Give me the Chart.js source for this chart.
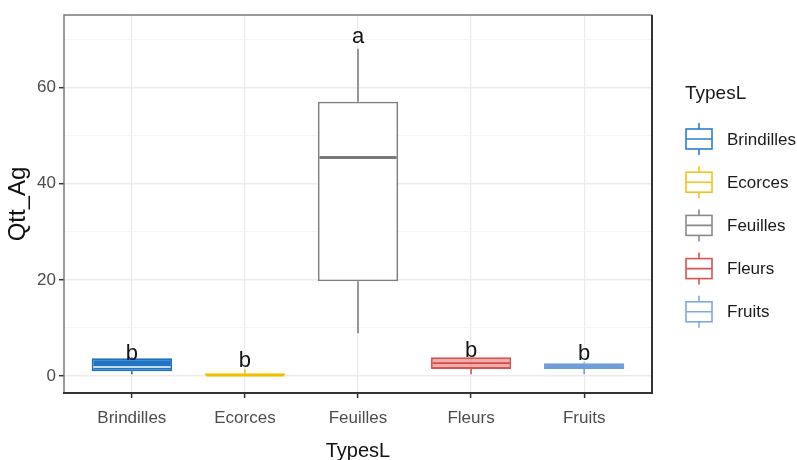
<!DOCTYPE html>
<html><head><meta charset="utf-8">
<script src="https://cdn.jsdelivr.net/npm/chart.js@4.4.0/dist/chart.umd.min.js"></script>
<style>html,body{margin:0;padding:0;background:#fff;} #wrap{width:797px;height:460px;}</style>
</head><body><div id="wrap"><canvas id="c" width="797" height="460"></canvas></div>
<script>
// ---- data ----
const categories = ['Brindilles', 'Ecorces', 'Feuilles', 'Fleurs', 'Fruits'];
const whiskerLow = [0.4, 0.0, 8.9, 0.4, 0.4];
const q1Values = [1.0, 0.0, 19.7, 1.5, 1.5];
const medianValues = [1.9, 0.1, 45.4, 2.7, 2.1];
const q3Values = [3.7, 0.6, 57.0, 3.9, 2.7];
const whiskerHigh = [3.9, 1.4, 68.0, 4.1, 2.9];
const groupLetters = ['b', 'b', 'a', 'b', 'b'];
const letterValues = [3.3, 1.9, 69.1, 4.0, 3.3];
const yMajorTicks = [0, 20, 40, 60];
const yMinorTicks = [10, 30, 50, 70];
const legendTitle = 'TypesL';
const xTitle = 'TypesL';
const yTitle = 'Qtt_Ag';

// ---- styles ----
const lineColors = ['#1f6fc0', '#f0c000', '#808080', '#d9534f', '#6f9fdb'];
const fillColors = ['#1f74c8', '#f0c000', '#ffffff', 'rgba(222,110,106,0.55)', '#6f9fdb'];
const medianColors = ['#ffffff', '#f0c000', '#7a7a7a', '#d24b4b', '#6f9fdb'];
const medianWidths = [1.5, 1.5, 3, 1.8, 1.5];
const legendColors = ['#2b7fcf', '#f2c318', '#8a8a8a', '#d9534f', '#7ea9e0'];
const FONT = "'Liberation Sans', Arial, sans-serif";

const boxPlugin = {
  id: 'boxExtras',
  beforeDatasetsDraw(chart) {
    const ctx = chart.ctx, xs = chart.scales.x, ys = chart.scales.y;
    ctx.save();
    ctx.lineWidth = 1.6;
    categories.forEach((c, i) => {
      const x = xs.getPixelForValue(i);
      ctx.strokeStyle = lineColors[i];
      ctx.beginPath();
      ctx.moveTo(x, ys.getPixelForValue(whiskerLow[i]));
      ctx.lineTo(x, ys.getPixelForValue(q1Values[i]));
      ctx.moveTo(x, ys.getPixelForValue(q3Values[i]));
      ctx.lineTo(x, ys.getPixelForValue(whiskerHigh[i]));
      ctx.stroke();
    });
    ctx.restore();
  },
  afterDatasetsDraw(chart) {
    const ctx = chart.ctx, xs = chart.scales.x, ys = chart.scales.y;
    const meta = chart.getDatasetMeta(0);
    ctx.save();
    categories.forEach((c, i) => {
      const x = xs.getPixelForValue(i);
      const w = meta.data[i].width;
      const y = ys.getPixelForValue(medianValues[i]);
      ctx.strokeStyle = medianColors[i];
      ctx.lineWidth = medianWidths[i];
      ctx.beginPath();
      ctx.moveTo(x - w / 2 + 1.5, y);
      ctx.lineTo(x + w / 2 - 1.5, y);
      ctx.stroke();
    });
    ctx.fillStyle = '#141414';
    ctx.font = '22px ' + FONT;
    ctx.textAlign = 'center';
    ctx.textBaseline = 'alphabetic';
    categories.forEach((c, i) => {
      ctx.fillText(groupLetters[i], xs.getPixelForValue(i), ys.getPixelForValue(letterValues[i]));
    });
    ctx.restore();
  },
  afterDraw(chart) {
    const ctx = chart.ctx, a = chart.chartArea;
    ctx.save();
    // panel border
    ctx.lineWidth = 1.5;
    ctx.strokeStyle = '#7a7a7a';
    ctx.beginPath();
    ctx.moveTo(a.left, a.bottom); ctx.lineTo(a.left, a.top); ctx.lineTo(a.right, a.top);
    ctx.stroke();
    ctx.lineWidth = 2;
    ctx.strokeStyle = '#333333';
    ctx.beginPath();
    ctx.moveTo(a.right, a.top); ctx.lineTo(a.right, a.bottom); ctx.lineTo(a.left - 1, a.bottom);
    ctx.stroke();
    // legend
    const lx = a.right + 33;
    ctx.fillStyle = '#1a1a1a';
    ctx.font = '19px ' + FONT;
    ctx.textAlign = 'left';
    ctx.textBaseline = 'middle';
    ctx.fillText(legendTitle, lx, 94);
    ctx.font = '17px ' + FONT;
    categories.forEach((c, i) => {
      const cy = 139 + i * 43.2;
      ctx.strokeStyle = legendColors[i];
      ctx.lineWidth = 1.6;
      ctx.beginPath();
      ctx.moveTo(lx + 14, cy - 16); ctx.lineTo(lx + 14, cy - 10);
      ctx.moveTo(lx + 14, cy + 10); ctx.lineTo(lx + 14, cy + 16);
      ctx.moveTo(lx + 1, cy); ctx.lineTo(lx + 27, cy);
      ctx.stroke();
      ctx.strokeRect(lx + 1, cy - 10, 26, 20);
      ctx.fillStyle = '#1a1a1a';
      ctx.fillText(c, lx + 42, cy + 1);
    });
    ctx.restore();
  }
};

new Chart(document.getElementById('c'), {
  type: 'bar',
  data: {
    datasets: [{
      data: categories.map((c, i) => ({ x: i, y: [q1Values[i], q3Values[i]] })),
      backgroundColor: fillColors,
      borderColor: lineColors,
      borderWidth: 1.8,
      borderSkipped: false,
      barPercentage: 0.71,
      categoryPercentage: 1
    }]
  },
  options: {
    responsive: false,
    animation: false,
    devicePixelRatio: 1,
    layout: { padding: { left: 0, top: 15, right: 145, bottom: 0 } },
    plugins: { legend: { display: false }, tooltip: { enabled: false } },
    scales: {
      x: {
        type: 'linear', min: -0.6, max: 4.6, offset: false,
        afterBuildTicks: s => { s.ticks = categories.map((c, i) => ({ value: i })); },
        afterFit: s => { s.height = 67; },
        ticks: { callback: v => categories[v], font: { family: FONT, size: 17 }, color: '#4d4d4d', padding: 10, maxRotation: 0, autoSkip: false },
        grid: { offset: false, color: '#ebebeb', lineWidth: 1.2, tickLength: 5, tickColor: '#333333', tickWidth: 1.5 },
        border: { display: false },
        title: { display: true, text: xTitle, font: { family: FONT, size: 20, lineHeight: 0.9 }, color: '#111', padding: { top: 0, bottom: 0 } }
      },
      y: {
        min: -3.5, max: 75,
        afterBuildTicks: s => { s.ticks = [...yMajorTicks, ...yMinorTicks].sort((p, q) => p - q).map(v => ({ value: v })); },
        afterFit: s => { s.width = 64; },
        ticks: { callback: v => yMajorTicks.includes(v) ? String(v) : '', font: { family: FONT, size: 17 }, color: '#4d4d4d', padding: 3, autoSkip: false },
        grid: {
          color: c => (c.tick && yMajorTicks.includes(c.tick.value)) ? '#ebebeb' : '#f4f4f4',
          lineWidth: c => (c.tick && yMajorTicks.includes(c.tick.value)) ? 1.4 : 1,
          tickLength: 5,
          tickColor: c => (c.tick && yMajorTicks.includes(c.tick.value)) ? '#333333' : 'rgba(0,0,0,0)',
          tickWidth: 1.5
        },
        border: { display: false },
        title: { display: true, text: yTitle, font: { family: FONT, size: 24, lineHeight: 1.2 }, color: '#111', padding: { top: 4, bottom: 0 } }
      }
    }
  },
  plugins: [boxPlugin]
});
</script>
</body></html>
